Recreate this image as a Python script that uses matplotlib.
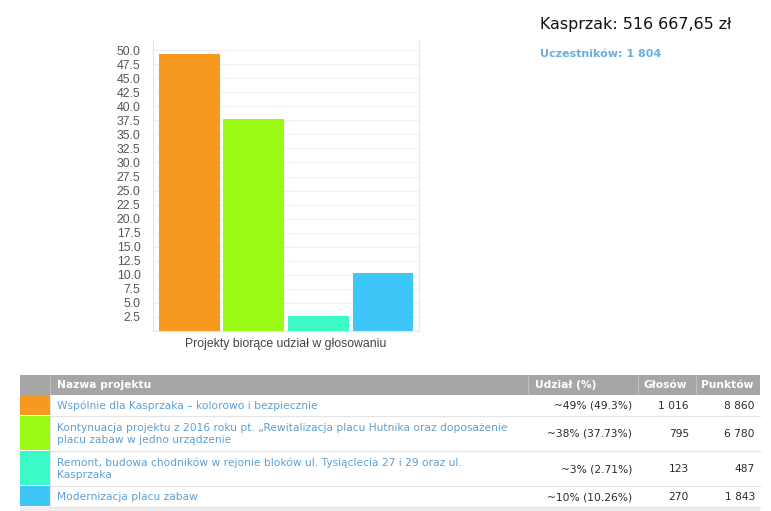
import matplotlib
matplotlib.use("Agg")
import matplotlib.pyplot as plt
from matplotlib.patches import Rectangle

# data
projects = ["Wspólnie dla Kasprzaka – kolorowo i bezpiecznie",
            "Kontynuacja projektu z 2016 roku pt. „Rewitalizacja placu Hutnika oraz doposażenie\nplacu zabaw w jedno urządzenie",
            "Remont, budowa chodników w rejonie bloków ul. Tysiąclecia 27 i 29 oraz ul.\nKasprzaka",
            "Modernizacja placu zabaw"]
share = [49.3, 37.73, 2.71, 10.26]
share_txt = ["~49% (49.3%)", "~38% (37.73%)", "~3% (2.71%)", "~10% (10.26%)"]
votes = ["1 016", "795", "123", "270"]
points = ["8 860", "6 780", "487", "1 843"]
colors = ["#f59a1f", "#9afa14", "#3cfac8", "#3ec6f8"]
yticks = [2.5 * i for i in range(1, 21)]
xlabel = "Projekty biorące udział w głosowaniu"
title = "Kasprzak: 516 667,65 zł"
subtitle = "Uczestników: 1 804"
headers = ["Nazwa projektu", "Udział (%)", "Głosów", "Punktów"]

W, H = 771, 511
fig = plt.figure(figsize=(W / 100, H / 100), dpi=100)

def fx(x):
    return x / W

def fy(y):
    return 1 - y / H

# ---- bar chart
ax = fig.add_axes([fx(153), fy(331), fx(419 - 153), (331 - 40) / H])
ax.bar(range(4), share, width=0.94, color=colors, zorder=3)
ax.set_xlim(-0.56, 3.56)
ax.set_ylim(0, 51.8)
ax.set_yticks(yticks)
ax.set_yticklabels(["%.1f" % t for t in yticks], fontsize=8.8,
                   color="#555555", family="Liberation Sans")
ax.set_xticks([])
ax.tick_params(axis="y", length=0, pad=9)
ax.grid(axis="y", color="#f1f1f1", lw=0.8, zorder=0)
ax.spines["top"].set_visible(False)
for s in ["left", "right", "bottom"]:
    ax.spines[s].set_color("#e6e6e6")
    ax.spines[s].set_linewidth(0.8)
ax.set_xlabel(xlabel, fontsize=8.8, color="#444444",
              family="Liberation Sans", labelpad=5)

# ---- header texts top right
fig.text(fx(540), fy(25), title, fontsize=11.4, color="#111111",
         va="center", ha="left")
fig.text(fx(540), fy(54), subtitle, fontsize=8, color="#6aaee0",
         fontweight="bold", va="center", ha="left")

# ---- table
tab = fig.add_axes([0, 0, 1, 1])
tab.set_xlim(0, W)
tab.set_ylim(H, 0)
tab.axis("off")

left, right = 20, 760
cols = [50, 528, 638, 696]
row_edges = [375, 395, 416, 451, 486, 507]
fs = 7.7
link = "#5d9fd3"
txt = "#2a2a2a"

tab.add_patch(Rectangle((left, row_edges[0]), right - left,
                        row_edges[1] - row_edges[0], color="#a6a6a6", lw=0))
hx = [57, 535, 644, 701]
for h, x in zip(headers, hx):
    tab.text(x, (row_edges[0] + row_edges[1]) / 2 + 0.5, h, color="white",
             fontsize=fs, fontweight="bold", va="center", ha="left")
for c in cols:
    tab.plot([c, c], [row_edges[0], row_edges[1]], color="#d8d8d8",
             lw=0.8, ls=(0, (1, 1)))

for i in range(4):
    y0, y1 = row_edges[i + 1], row_edges[i + 2]
    yc = (y0 + y1) / 2
    tab.add_patch(Rectangle((left, y0), cols[0] - left, y1 - y0 - 1,
                            color=colors[i], lw=0))
    tab.plot([cols[0], right], [y1, y1], color="#e4e4e4", lw=0.8)
    tab.plot([cols[0], cols[0]], [y0, y1], color="#d0d0d0", lw=0.8,
             ls=(0, (1, 1)))
    tab.text(57, yc + 0.5, projects[i], color=link, fontsize=fs,
             va="center", ha="left", linespacing=1.25)
    tab.text(632, yc + 0.5, share_txt[i], color=txt, fontsize=fs,
             va="center", ha="right")
    tab.text(689, yc + 0.5, votes[i], color=txt, fontsize=fs,
             va="center", ha="right")
    tab.text(755, yc + 0.5, points[i], color=txt, fontsize=fs,
             va="center", ha="right")

tab.add_patch(Rectangle((left, row_edges[-1]), right - left, 4,
                        color="#eeeeee", lw=0))

fig.savefig("out.png", dpi=100)
